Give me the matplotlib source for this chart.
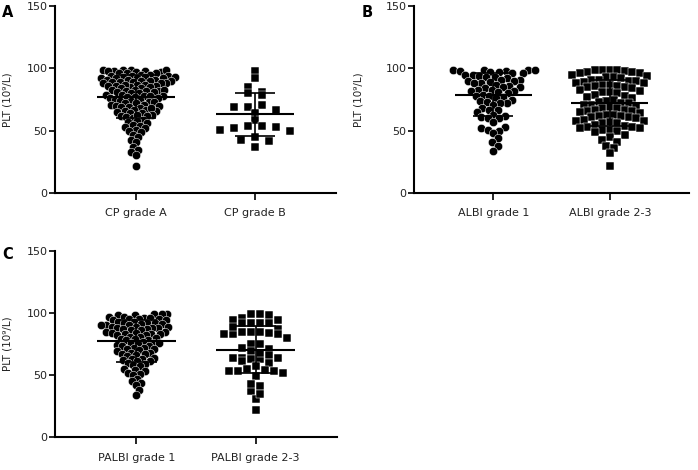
import numpy as np
import matplotlib
matplotlib.use("Agg")
import matplotlib.pyplot as plt

plt.rcParams['font.family'] = ['DejaVu Sans']

# PLT values (10^9/L)
cp_a = [99, 99, 99, 98, 98, 98, 97, 97, 96, 96, 96, 95, 95, 99,
        94, 94, 94, 93, 93, 93, 92, 92, 92, 91, 91, 91, 90, 90, 90, 92,
        89, 89, 89, 88, 88, 88, 87, 87, 86, 86, 86, 85, 85, 87,
        84, 84, 83, 83, 82, 82, 82, 81, 81, 80, 80, 83,
        79, 79, 78, 78, 77, 77, 76, 76, 75, 75, 78,
        74, 74, 73, 73, 72, 72, 71, 71, 70, 70,
        69, 69, 68, 67, 67, 66, 66, 65, 68,
        64, 64, 63, 62, 62, 61, 60, 63,
        59, 58, 57, 56, 55,
        54, 53, 52, 51, 50,
        49, 47, 45, 43, 41, 37, 35, 33, 31, 22]
cp_b = [98, 92, 85, 81, 80, 79, 69, 67, 71, 69, 64, 59, 51, 53, 50, 54, 54, 52,
        43, 37, 42, 45]

albi_1 = [99, 99, 99, 98, 98, 97, 97, 96, 96, 95, 95, 99,
          94, 93, 93, 92, 91, 91, 90, 90,
          89, 88, 88, 87, 86, 85, 85,
          84, 83, 83, 82, 82, 81, 80,
          79, 78, 78, 77, 76, 75,
          74, 73, 72, 72, 71,
          68, 67, 67, 65, 63, 62, 61, 60, 60, 57,
          53, 52, 51, 50, 48, 44, 41, 38, 34]
albi_23 = [99, 99, 99, 99, 98, 97, 97, 96, 96, 95,
           94, 93, 93, 92, 91, 91, 90, 90,
           89, 88, 88, 87, 87, 86, 86, 85, 85,
           84, 83, 82, 81, 81, 80,
           79, 78, 77, 76, 75,
           74, 73, 72, 72, 71, 71, 70,
           69, 68, 68, 67, 67, 66, 66, 65,
           64, 63, 63, 62, 62, 61, 61, 60,
           59, 58, 58, 57, 56, 56, 55,
           54, 53, 53, 52, 52, 51, 51, 50,
           49, 47, 45, 43, 41, 38, 36, 32, 22]

palbi_1 = [99, 99, 99, 98, 98, 97, 97, 96, 96, 95, 95, 95,
           94, 94, 93, 93, 92, 92, 92, 91, 91, 90, 90, 90,
           89, 89, 89, 88, 88, 88, 87, 87, 86, 86, 85, 85,
           84, 84, 83, 83, 83, 82, 82, 81, 81, 80,
           79, 79, 78, 78, 77, 76, 76, 76, 75,
           74, 73, 73, 72, 72, 71, 71, 70,
           69, 68, 68, 67, 67, 66, 65,
           64, 63, 63, 62, 61, 61, 60,
           59, 58, 57, 55, 54, 53, 52, 51, 50,
           47, 45, 44, 42, 38, 34]
palbi_23 = [98, 99, 99, 96, 94, 92, 92, 92, 92, 94, 85, 87, 85, 84, 85, 83, 83, 89,
            80, 83, 75, 72, 71, 75, 69, 64, 64, 63, 66, 63, 68, 61, 64, 60,
            53, 53, 55, 57, 49, 52, 53, 54, 37, 41, 43, 31, 35, 22]

# mean and SD bars
means_a = [77.3, 63.4]
sds_a = [17.1, 17.2]
means_b = [79.1, 72.5]
sds_b = [17.3, 18.5]
means_c = [77.7, 70.4]
sds_c = [16.9, 18.7]

labels_a = ["CP grade A", "CP grade B"]
labels_b = ["ALBI grade 1", "ALBI grade 2-3"]
labels_c = ["PALBI grade 1", "PALBI grade 2-3"]


def swarm(ypix, d):
    # beeswarm in pixel space, nearest free x to the centre
    order = np.argsort(ypix)
    xs = np.zeros(len(ypix))
    placed = []
    for k, i in enumerate(order):
        y = ypix[i]
        cands = [0.0]
        for xj, yj in placed:
            dy = abs(y - yj)
            if dy < d:
                dx = np.sqrt(d * d - dy * dy)
                cands += [xj - dx, xj + dx]
        sign = 1 if k % 2 else -1
        cands.sort(key=lambda c: abs(c) + (1e-3 if c * sign < 0 else 0))
        for c in cands:
            if all((c - xj) ** 2 + (y - yj) ** 2 >= d * d - 1e-6 for xj, yj in placed):
                xs[i] = c
                break
        placed.append((xs[i], y))
    return xs


def rows(vals, h, w):
    # GraphPad-like grid for the squares: rows of close values, centred
    vals = np.asarray(vals, dtype=float)
    order = np.argsort(-vals, kind='stable')
    off = np.zeros(len(vals))
    groups = []
    for i in order:
        if groups and vals[groups[-1][0]] - vals[i] < h:
            groups[-1].append(i)
        else:
            groups.append([i])
    for g in groups:
        n = len(g)
        slots = (np.arange(n) - (n - 1) / 2) * w
        slot_order = sorted(range(n), key=lambda k: (abs(slots[k]), k % 2))
        for j, k in zip(g, slot_order):
            off[j] = slots[k]
    return off


def panel(ax, groups, labels, means, sds, spread):
    ax.set_xlim(-0.68, 1.68)
    ax.set_ylim(0, 150)
    p0 = ax.transData.transform((0, 0))
    p1 = ax.transData.transform((1, 1))
    pxx = p1[0] - p0[0]
    pxy = p1[1] - p0[1]
    for i, vals in enumerate(groups):
        vals = np.array(vals, dtype=float)
        if i == 0:
            off = swarm(vals * pxy, spread[0])
            ax.scatter(off / pxx, vals, marker='o', s=36, c='black',
                       edgecolors='white', linewidths=0.35, zorder=2, clip_on=False)
        else:
            h, w = spread[1]
            off = rows(vals, h, w)
            ax.scatter(1 + off / pxx, vals, marker='s', s=26, c='black',
                       edgecolors='white', linewidths=0.35, zorder=2, clip_on=False)
        m, sd = means[i], sds[i]
        ax.hlines(m, i - 0.33, i + 0.33, colors='black', lw=1.5, zorder=3)
        ax.hlines([m - sd, m + sd], i - 0.17, i + 0.17, colors='black', lw=1.2, zorder=3)
        ax.vlines(i, m - sd, m + sd, colors='black', lw=1.2, zorder=3)
    for side in ['top', 'right']:
        ax.spines[side].set_visible(False)
    for side in ['left', 'bottom']:
        ax.spines[side].set_linewidth(1.5)
    ax.set_yticks([0, 50, 100, 150])
    ax.set_xticks([0, 1])
    ax.set_xticklabels(labels)
    ax.tick_params(axis='y', length=4, width=1.2, pad=1.5, labelsize=8, labelcolor='#222222')
    ax.tick_params(axis='x', length=5, width=1.2, pad=6, labelsize=8, labelcolor='#222222')
    ax.set_ylabel("PLT (10⁹/L)", fontsize=7.5, color='#222222')


fig = plt.figure(figsize=(6.98, 4.70), dpi=100)
ax_a = fig.add_axes([0.0788, 0.589, 0.4026, 0.398])
ax_b = fig.add_axes([0.5931, 0.589, 0.394, 0.398])
ax_c = fig.add_axes([0.0788, 0.0696, 0.404, 0.397])

panel(ax_a, [cp_a, cp_b], labels_a, means_a, sds_a, [5.5, (5, 14)])
panel(ax_b, [albi_1, albi_23], labels_b, means_b, sds_b, [6.7, (5.5, 7.5)])
panel(ax_c, [palbi_1, palbi_23], labels_c, means_c, sds_c, [5.6, (5.5, 9)])

ax_a.yaxis.set_label_coords(-0.153, 0.5)
ax_b.yaxis.set_label_coords(-0.182, 0.5)
ax_c.yaxis.set_label_coords(-0.149, 0.5)

fig.text(0.003, 0.99, "A", fontsize=10.5, fontweight='bold', va='top')
fig.text(0.518, 0.99, "B", fontsize=10.5, fontweight='bold', va='top')
fig.text(0.003, 0.475, "C", fontsize=10.5, fontweight='bold', va='top')

fig.savefig("out.png", dpi=100)
